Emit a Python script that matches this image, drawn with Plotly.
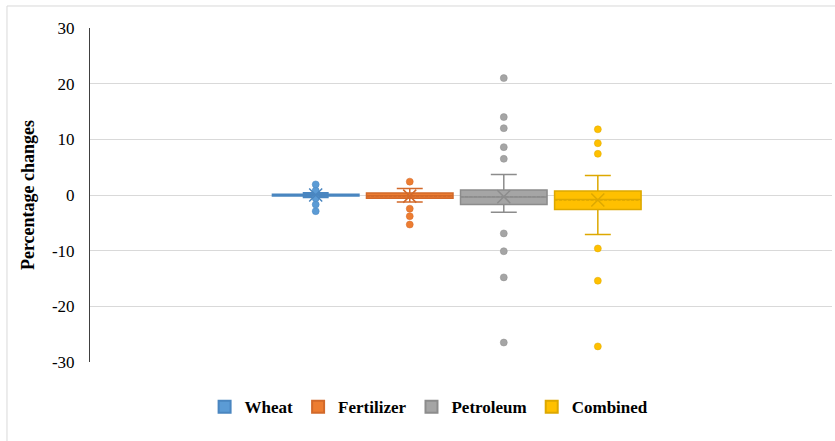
import plotly.graph_objects as go

# ---- data ----
series = ["Wheat", "Fertilizer", "Petroleum", "Combined"]
q1_vals = [-0.2, -0.6, -1.7, -2.6]
median_vals = [0.0, -0.15, -0.35, -0.8]
q3_vals = [0.15, 0.35, 0.9, 0.7]
lower_vals = [-0.45, -1.25, -3.1, -7.1]
upper_vals = [0.4, 1.15, 3.7, 3.5]
mean_vals = [0.0, -0.2, -0.3, -0.9]
outliers_wheat = [1.9, 0.8, -0.6, -1.7, -2.9]
outliers_fertilizer = [2.4, -2.45, -3.8, -5.3]
outliers_petroleum = [21.0, 14.0, 12.0, 8.6, 6.5, -6.9, -10.1, -14.8, -26.5]
outliers_combined = [11.8, 9.3, 7.4, -9.6, -15.4, -27.2]
outliers = [outliers_wheat, outliers_fertilizer, outliers_petroleum, outliers_combined]
y_ticks = [-30, -20, -10, 0, 10, 20, 30]
y_tick_labels = ["-30", "-20", "-10", "0", "10", "20", "30"]

# ---- styles ----
fill_colors = ["#5B9BD5", "#ED7D31", "#A5A5A5", "#FFC000"]
line_colors = ["#4A86C0", "#D2692A", "#8C8C8C", "#DDA800"]
FONT = "Liberation Serif, Times New Roman, serif"

fig = go.Figure()
for i, name in enumerate(series):
    fig.add_trace(go.Box(
        name="<b>" + name + "</b>",
        x=[name],
        y=[outliers[i]],
        q1=[q1_vals[i]], median=[median_vals[i]], q3=[q3_vals[i]],
        lowerfence=[lower_vals[i]], upperfence=[upper_vals[i]],
        mean=[mean_vals[i]],
        boxpoints="outliers", jitter=0, pointpos=0,
        fillcolor=fill_colors[i],
        line=dict(color=line_colors[i], width=1.5),
        whiskerwidth=0.3,
        marker=dict(color=fill_colors[i], size=7,
                    line=dict(color=line_colors[i], width=0.5)),
        hoverinfo="y",
    ))
for i, name in enumerate(series):
    fig.add_trace(go.Scatter(
        x=[name], y=[mean_vals[i]], mode="markers", showlegend=False,
        marker=dict(symbol="x-thin-open", size=13, color=line_colors[i],
                    line=dict(color=line_colors[i], width=1.5)),
        hoverinfo="skip",
    ))

fig.update_layout(
    width=835, height=441,
    margin=dict(l=90, r=3, t=28, b=79),
    paper_bgcolor="white", plot_bgcolor="white",
    boxmode="overlay", boxgap=0.08, boxgroupgap=0,
    font=dict(family=FONT, color="#000000"),
    xaxis=dict(type="category", categoryorder="array", categoryarray=series,
               range=[-2.4, 5.49], showticklabels=False, showgrid=False,
               zeroline=False, showline=False, ticks=""),
    yaxis=dict(range=[-30, 30], tickvals=y_ticks, ticktext=y_tick_labels,
               showgrid=True,
               gridcolor="#D9D9D9", gridwidth=1, zeroline=False,
               showline=True, linecolor="#404040", linewidth=1,
               ticks="", ticklabelstandoff=11,
               tickfont=dict(family=FONT, size=17, color="#000000"),
               title=dict(text="<b>Percentage changes</b>", standoff=12,
                          font=dict(family=FONT, size=18, color="#000000"))),
    legend=dict(orientation="h", x=0.457, xanchor="center", y=-0.135,
                yanchor="middle", font=dict(family=FONT, size=17, color="#000000"),
                itemsizing="constant", itemwidth=30),
    shapes=[dict(type="rect", xref="paper", yref="paper",
                 x0=-0.1119, x1=1.02, y0=-0.4, y1=1.0659,
                 line=dict(color="#D9D9D9", width=1), fillcolor="rgba(0,0,0,0)",
                 layer="below")],
)

fig.write_html("out.html", config={"displayModeBar": False},
               post_script="document.body.style.margin='0';")
